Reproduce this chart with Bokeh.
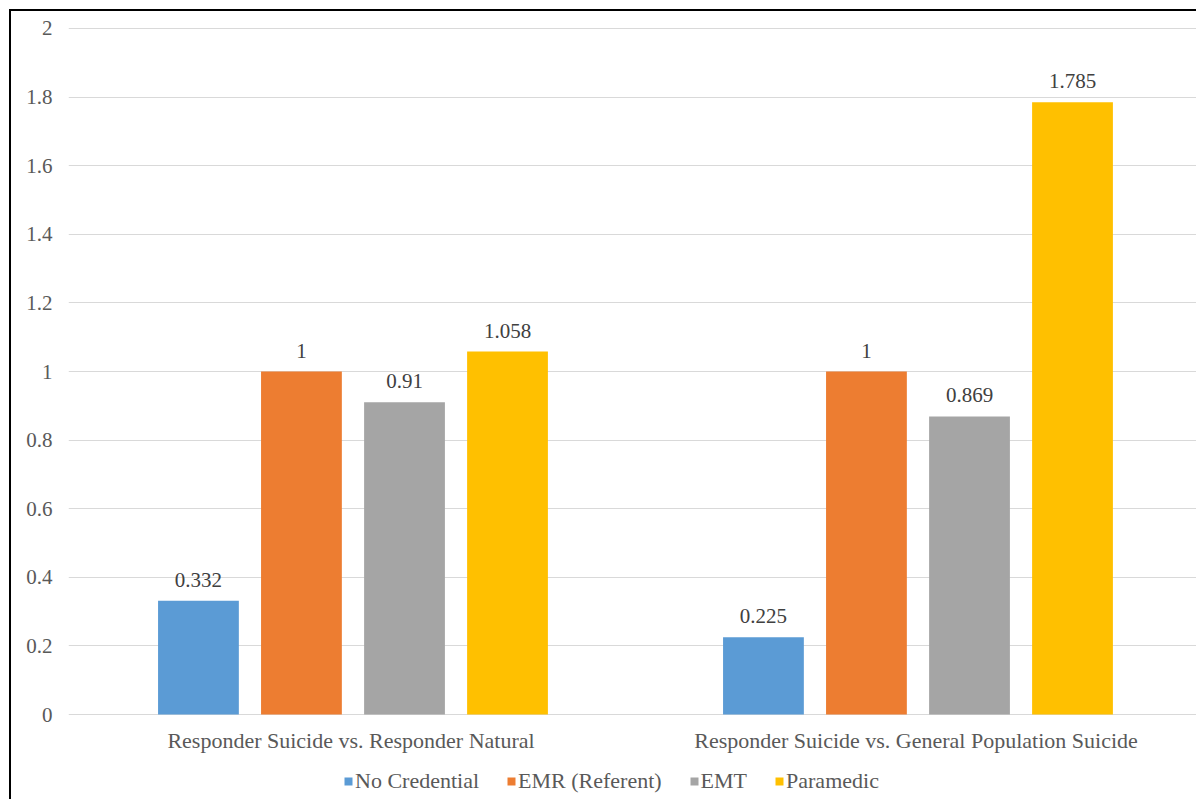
from bokeh.plotting import figure
from bokeh.models import (FactorRange, Range1d, FixedTicker, NumeralTickFormatter,
                          ColumnDataSource, Legend, LegendItem)
from bokeh.transform import dodge
from bokeh.core.properties import value
from bokeh.embed import file_html
from bokeh.resources import INLINE

# Rate ratios by responder credential
categories = ["Responder Suicide vs. Responder Natural",
              "Responder Suicide vs. General Population Suicide"]
series_names = ["No Credential", "EMR (Referent)", "EMT", "Paramedic"]
no_credential = [0.332, 0.225]
emr_referent = [1.0, 1.0]
emt = [0.91, 0.869]
paramedic = [1.058, 1.785]
y_ticks = [0, 0.2, 0.4, 0.6, 0.8, 1.0, 1.2, 1.4, 1.6, 1.8, 2.0]

colors = ["#5B9BD5", "#ED7D31", "#A5A5A5", "#FFC000"]
offsets = [-0.270, -0.0877, 0.0947, 0.277]
bar_width = 0.143
FONT = "Liberation Serif, Times New Roman, DejaVu Serif, serif"

# the frame runs down to the bottom edge so that the category names and the
# legend sit inside it, under the zero line
p = figure(x_range=FactorRange(factors=categories), y_range=Range1d(-0.2536, 2.0029),
           width=1187, height=790, output_backend="svg", toolbar_location=None,
           min_border_left=57, min_border_right=0, min_border_top=16,
           min_border_bottom=0)
p.background_fill_color = "white"
p.border_fill_color = "white"
p.outline_line_color = None
# thin black frame around the whole chart
p.margin = (9, 0, 0, 9)
p.styles = {"border-top": "2px solid black", "border-left": "2px solid black"}

items = []
for name, vals, color, off in zip(series_names,
                                  [no_credential, emr_referent, emt, paramedic],
                                  colors, offsets):
    src = ColumnDataSource(dict(cat=categories, val=vals,
                                label=[f"{v:g}" for v in vals]))
    r = p.vbar(x=dodge("cat", off, range=p.x_range), top="val", width=bar_width,
               source=src, fill_color=color, line_color=None)
    p.text(x=dodge("cat", off, range=p.x_range), y="val", text="label", source=src,
           text_align="center", text_baseline="alphabetic", y_offset=-21,
           text_font=value(FONT), text_font_size="21px", text_color="#404040")
    items.append(LegendItem(label=name, renderers=[r]))

# category names under the zero line
cat_src = ColumnDataSource(dict(cat=categories, base=[0] * len(categories)))
p.text(x="cat", y="base", text="cat", source=cat_src, text_align="center",
       text_baseline="middle", y_offset=26, text_font=value(FONT),
       text_font_size="22px", text_color="#595959")

# axes
p.xaxis.visible = False

p.yaxis.ticker = FixedTicker(ticks=y_ticks)
p.yaxis.formatter = NumeralTickFormatter(format="0.[0]")
p.yaxis.axis_line_color = None
p.yaxis.major_tick_line_color = None
p.yaxis.minor_tick_line_color = None
p.yaxis.major_tick_out = 0
p.yaxis.major_label_standoff = 16
p.yaxis.major_label_text_font = FONT
p.yaxis.major_label_text_font_size = "21px"
p.yaxis.major_label_text_color = "#595959"

p.xgrid.grid_line_color = None
p.ygrid.ticker = FixedTicker(ticks=y_ticks)
p.ygrid.grid_line_color = "#D9D9D9"
p.ygrid.grid_line_width = 1

legend = Legend(items=items, orientation="horizontal", location=(275, 7),
                padding=0, margin=0, spacing=27, label_standoff=2,
                glyph_width=10, glyph_height=10, border_line_color=None,
                background_fill_alpha=0, label_text_font=FONT,
                label_text_font_size="22px", label_text_color="#595959")
p.add_layout(legend)

open("out.html", "w").write(file_html(p, INLINE))
